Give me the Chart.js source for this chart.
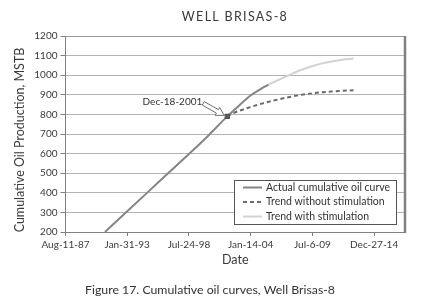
<!DOCTYPE html>
<html>
<head>
<meta charset="utf-8">
<style>
html, body { margin: 0; padding: 0; background: #fff; }
</style>
<script src="https://cdn.jsdelivr.net/npm/chart.js@4.4.0/dist/chart.umd.min.js"></script>
</head>
<body>
<canvas id="chart" width="442" height="303"></canvas>
<script>
// x values are spreadsheet day serials (32000 = Aug-11-1987)
const tickValues = [32000, 34000, 36000, 38000, 40000, 42000];
const tickLabels = ['Aug-11-87', 'Jan-31-93', 'Jul-24-98', 'Jan-14-04', 'Jul-6-09', 'Dec-27-14'];

const seriesNames = ['Actual cumulative oil curve', 'Trend without stimulation', 'Trend with stimulation'];

const actualDays   = [33280, 34000, 35000, 36000, 36500, 37243, 37659, 37983, 38308, 38577];
const actualValues = [200,   306,   452,   598,   672,   790,   850,   895,   928,   952];

const withoutDays   = [37243, 37432, 37983, 38525, 39053, 39606, 40254, 40902, 41333];
const withoutValues = [790,   806,   837,   862,   882,   899,   912,   920,   923];

const withDays   = [38577, 38957, 39281, 39606, 39930, 40361, 40902, 41333];
const withValues = [952,   980,   1003,  1025,  1043,  1062,  1078,  1085];

const markerDay = 37243;
const markerValue = 790;
const markerLabel = 'Dec-18-2001';

const chartTitle = 'WELL BRISAS-8';
const yTitle = 'Cumulative Oil Production, MSTB';
const xTitle = 'Date';
const caption = 'Figure 17. Cumulative oil curves, Well Brisas-8';

const FONT = 'Lato, "Open Sans", sans-serif';

function toPoints(xs, ys) {
    return xs.map((x, i) => ({ x: x, y: ys[i] }));
}

const extras = {
    id: 'extras',
    afterDraw(chart) {
        const ctx = chart.ctx;
        const a = chart.chartArea;
        ctx.save();

        // plot frame: thin top, heavy right
        ctx.strokeStyle = '#9a9a9a';
        ctx.lineWidth = 1;
        ctx.beginPath();
        ctx.moveTo(a.left, a.top + 0.5);
        ctx.lineTo(a.right, a.top + 0.5);
        ctx.stroke();
        ctx.strokeStyle = '#808080';
        ctx.lineWidth = 2.5;
        ctx.beginPath();
        ctx.moveTo(a.right, a.top);
        ctx.lineTo(a.right, a.bottom + 1);
        ctx.stroke();

        // title
        ctx.fillStyle = '#3a3a3a';
        ctx.font = '12.5px ' + FONT;
        ctx.letterSpacing = '1.3px';
        ctx.textAlign = 'center';
        ctx.textBaseline = 'middle';
        ctx.fillText(chartTitle, 235, 17);
        ctx.letterSpacing = '0px';

        // y title
        ctx.save();
        ctx.translate(20, 140);
        ctx.rotate(-Math.PI / 2);
        ctx.font = '12.5px ' + FONT;
        ctx.fillStyle = '#3a3a3a';
        ctx.fillText(yTitle, 0, 0);
        ctx.restore();

        // caption
        ctx.font = '12.3px ' + FONT;
        ctx.fillStyle = '#333';
        ctx.fillText(caption, 210, 290);

        // annotation with hollow arrow
        const px = chart.scales.x.getPixelForValue(markerDay);
        const py = chart.scales.y.getPixelForValue(markerValue);
        ctx.font = '10px ' + FONT;
        ctx.textAlign = 'right';
        ctx.fillStyle = '#333';
        ctx.fillText(markerLabel, px - 25, py - 15);

        const tail = { x: px - 24, y: py - 13 };
        const tip = { x: px - 3, y: py - 1 };
        const dx = tip.x - tail.x, dy = tip.y - tail.y;
        const len = Math.hypot(dx, dy);
        const ux = dx / len, uy = dy / len, nx = -uy, ny = ux;
        const headLen = 8, w = 2, hw = 4.5;
        const neck = { x: tip.x - ux * headLen, y: tip.y - uy * headLen };
        ctx.beginPath();
        ctx.moveTo(tail.x + nx * w, tail.y + ny * w);
        ctx.lineTo(neck.x + nx * w, neck.y + ny * w);
        ctx.lineTo(neck.x + nx * hw, neck.y + ny * hw);
        ctx.lineTo(tip.x, tip.y);
        ctx.lineTo(neck.x - nx * hw, neck.y - ny * hw);
        ctx.lineTo(neck.x - nx * w, neck.y - ny * w);
        ctx.lineTo(tail.x - nx * w, tail.y - ny * w);
        ctx.closePath();
        ctx.fillStyle = '#fff';
        ctx.fill();
        ctx.strokeStyle = '#6e6e6e';
        ctx.lineWidth = 1;
        ctx.stroke();

        // legend box inside plot
        const bx = 234.5, by = 180.5, bw = 162, bh = 44;
        ctx.fillStyle = '#fff';
        ctx.fillRect(bx, by, bw, bh);
        ctx.strokeStyle = '#555';
        ctx.lineWidth = 1;
        ctx.strokeRect(bx, by, bw, bh);
        ctx.font = '10.5px ' + FONT;
        ctx.textAlign = 'left';
        const rows = [187.5, 202, 216.5];
        for (let i = 0; i < 3; i++) {
            const ds = chart.data.datasets[i];
            ctx.strokeStyle = ds.borderColor;
            ctx.lineWidth = 2;
            ctx.setLineDash(ds.borderDash || []);
            ctx.beginPath();
            ctx.moveTo(243, rows[i]);
            ctx.lineTo(262, rows[i]);
            ctx.stroke();
            ctx.setLineDash([]);
            ctx.fillStyle = '#333';
            ctx.fillText(ds.label, 266, rows[i]);
        }
        ctx.restore();
    }
};

new Chart(document.getElementById('chart'), {
    type: 'line',
    data: {
        datasets: [
            {
                label: seriesNames[0],
                data: toPoints(actualDays, actualValues),
                borderColor: '#858585',
                borderWidth: 2,
                pointRadius: 0,
                cubicInterpolationMode: 'monotone',
                order: 2
            },
            {
                label: seriesNames[1],
                data: toPoints(withoutDays, withoutValues),
                borderColor: '#6a6a6a',
                borderWidth: 2,
                borderDash: [4, 3],
                pointRadius: 0,
                cubicInterpolationMode: 'monotone',
                order: 3
            },
            {
                label: seriesNames[2],
                data: toPoints(withDays, withValues),
                borderColor: '#d2d2d2',
                borderWidth: 2,
                pointRadius: 0,
                cubicInterpolationMode: 'monotone',
                order: 4
            },
            {
                label: markerLabel,
                data: [{ x: markerDay, y: markerValue }],
                showLine: false,
                pointStyle: 'rect',
                pointRadius: 3,
                backgroundColor: '#5f5f5f',
                borderColor: '#4a4a4a',
                borderWidth: 1,
                order: 1
            }
        ]
    },
    options: {
        responsive: false,
        animation: false,
        layout: { padding: { top: 36, right: 37, bottom: 36, left: 0 } },
        plugins: {
            legend: { display: false },
            title: { display: false },
            tooltip: { enabled: false }
        },
        scales: {
            x: {
                type: 'linear',
                min: 32000,
                max: 43000,
                afterBuildTicks: (scale) => { scale.ticks = tickValues.map(v => ({ value: v })); },
                afterFit: (scale) => { scale.height = 35; },
                ticks: {
                    autoSkip: false,
                    maxRotation: 0,
                    padding: 3,
                    color: '#3a3a3a',
                    font: { family: FONT, size: 10 },
                    callback: (v) => tickLabels[tickValues.indexOf(v)]
                },
                grid: {
                    drawOnChartArea: false,
                    drawTicks: true,
                    tickLength: 4,
                    tickColor: '#808080'
                },
                border: { color: '#808080', width: 1 },
                title: {
                    display: true,
                    text: xTitle,
                    color: '#3a3a3a',
                    font: { family: FONT, size: 12.5 },
                    padding: { top: 0, bottom: 0 }
                }
            },
            y: {
                min: 200,
                max: 1200,
                afterFit: (scale) => { scale.width = 65.5; },
                ticks: {
                    stepSize: 100,
                    padding: 3,
                    color: '#3a3a3a',
                    font: { family: FONT, size: 10 },
                    callback: (v) => String(v)
                },
                grid: {
                    color: (c) => (c.tick.value === 200 || c.tick.value === 1200) ? 'rgba(0,0,0,0)' : '#b4b4b4',
                    borderDash: [1, 2],
                    tickLength: 5,
                    tickColor: '#808080',
                    tickBorderDash: []
                },
                border: { color: '#808080', width: 1 }
            }
        }
    },
    plugins: [extras]
});
</script>
</body>
</html>
